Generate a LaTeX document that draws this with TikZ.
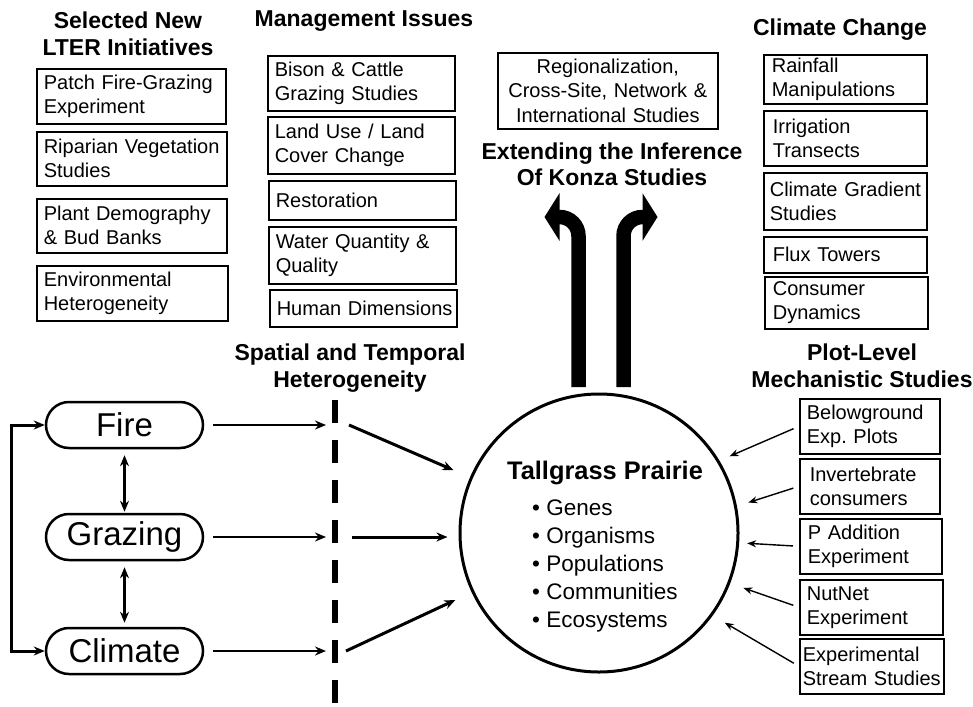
\documentclass[tikz,border=0pt]{standalone}
\usepackage{fontspec}
\setmainfont{Liberation Sans}
\usetikzlibrary{arrows.meta}
\hyphenpenalty=10000
\exhyphenpenalty=10000
\hbadness=10000
\hfuzz=20pt
\frenchspacing
\begin{document}
\frenchspacing
\begin{tikzpicture}[x=1pt,y=-1pt,
  ibox/.style={draw, line width=1.6pt, anchor=north west, align=left, inner xsep=7pt, inner ysep=0pt, font=\fontsize{20}{24}\selectfont},
  head/.style={font=\bfseries\fontsize{23}{27}\selectfont, align=center, inner sep=0pt},
  pill/.style={draw, line width=2.5pt, rounded corners=23pt, minimum width=157pt, minimum height=46pt, inner sep=0pt, font=\fontsize{33}{36}\selectfont},
  arr/.style={line width=2.5pt, -{Stealth[length=11pt,width=9pt]}},
  darr/.style={line width=2.5pt, {Stealth[length=11pt,width=9pt]}-{Stealth[length=11pt,width=9pt]}},
  thinarr/.style={line width=1.4pt, -{Stealth[length=9pt,width=7pt]}},
  bigarr/.style={line width=14.5pt, -{Triangle[length=15pt,width=47pt]}}
]
\useasboundingbox (0,0) rectangle (973,706);

% headings
\node[head] (hlter) at (128,33.5) {Selected New\\LTER Initiatives};
\node[head] (hman) at (364,21) {Management Issues};
\node[head] (hclim) at (840,30) {Climate Change};
\node[head, font=\bfseries\fontsize{23}{26}\selectfont] (hext) at (612,164) {Extending the Inference\\Of Konza Studies};
\node[head] (hspat) at (350,368.5) {Spatial and Temporal\\Heterogeneity};
\node[head] (hplot) at (862,365.5) {Plot-Level\\Mechanistic Studies};

% LTER initiatives
\node[ibox, text width=175pt, minimum height=55pt] (l1) at (36,68) {\mbox{Patch Fire-Grazing}\\Experiment};
\node[ibox, text width=176pt, minimum height=54pt] (l2) at (36,131) {\mbox{Riparian Vegetation}\\Studies};
\node[ibox, text width=176pt, minimum height=54pt] (l3) at (36,198) {\mbox{Plant Demography}\\\mbox{\& Bud Banks}};
\node[ibox, text width=177pt, minimum height=55pt] (l4) at (36,265) {Environmental\\Heterogeneity};

% management issues
\node[ibox, text width=173pt, minimum height=55pt] (m1) at (267,55) {\mbox{Bison \& Cattle}\\\mbox{Grazing Studies}};
\node[ibox, text width=173pt, minimum height=57pt] (m2) at (267,116) {\mbox{Land Use / Land}\\\mbox{Cover Change}};
\node[ibox, text width=173pt, minimum height=39pt] (m3) at (268,180) {Restoration};
\node[ibox, text width=173pt, minimum height=57pt] (m4) at (268,226) {\mbox{Water Quantity \&}\\Quality};
\node[ibox, text width=173pt, minimum height=37pt] (m5) at (269,289) {\mbox{Human Dimensions}};

% regionalization
\node[ibox, align=center, text width=206pt, minimum height=76pt, font=\fontsize{20}{24.5}\selectfont] (reg) at (497,52) {Regionalization,\\\mbox{Cross-Site, Network \&}\\\mbox{International Studies}};

% climate change
\node[ibox, inner xsep=8pt, text width=147pt, minimum height=49pt] (c1) at (763,54) {Rainfall\\Manipulations};
\node[ibox, inner xsep=9pt, text width=145pt, minimum height=55pt] (c2) at (763,110) {Irrigation\\Transects};
\node[ibox, inner xsep=6pt, text width=151pt, minimum height=57pt] (c3) at (763,172) {\mbox{Climate Gradient}\\Studies};
\node[ibox, inner xsep=9pt, text width=145pt, minimum height=36pt] (c4) at (763,236) {\mbox{Flux Towers}};
\node[ibox, inner xsep=8pt, text width=147pt, minimum height=52pt] (c5) at (764,276) {Consumer\\Dynamics};

% plot-level studies
\node[ibox, inner xsep=7pt, text width=126pt, minimum height=55pt] (p1) at (799,398) {Belowground\\\mbox{Exp.\ Plots}};
\node[ibox, inner xsep=10pt, text width=120pt, minimum height=55pt] (p2) at (799,458) {Invertebrate\\consumers};
\node[ibox, inner xsep=8pt, text width=126pt, minimum height=55pt] (p3) at (799,518) {\mbox{P Addition}\\Experiment};
\node[ibox, inner xsep=7pt, text width=129pt, minimum height=55pt] (p4) at (799,579) {NutNet\\Experiment};
\node[ibox, inner xsep=3pt, text width=138pt, minimum height=55pt] (p5) at (799,638) {Experimental\\\mbox{Stream Studies}};

% drivers
\node[pill] (fire) at (124.5,425) {Fire};
\node[pill] (graz) at (124.5,537) {Grazing};
\node[pill] (clim) at (124.5,651) {Climate};

% central circle
\node[circle, draw, line width=3pt, minimum size=278pt, inner sep=0pt] (tp) at (599,533) {};
\node[font=\bfseries\fontsize{25.4}{28}\selectfont, inner sep=0pt] (tptitle) at (605,473) {Tallgrass Prairie};
\node[anchor=west, align=left, inner sep=0pt, font=\fontsize{22.5}{28}\selectfont] (tplist) at (532,566)
  {\textbullet\ Genes\\\textbullet\ Organisms\\\textbullet\ Populations\\\textbullet\ Communities\\\textbullet\ Ecosystems};

% dashed heterogeneity line
\coordinate (dtop) at (335,400);
\coordinate (dbot) at (335,706);
\draw[line width=6.5pt, dash pattern=on 23pt off 17pt] (dtop) -- (dbot);

% drivers to dashed line
\coordinate (d1) at (326,425);
\coordinate (d2) at (326,537);
\coordinate (d3) at (326,651);
\draw[arr, shorten <=9pt] (fire.east) -- (d1);
\draw[arr, shorten <=9pt] (graz.east) -- (d2);
\draw[arr, shorten <=9pt] (clim.east) -- (d3);

% interactions among drivers
\draw[darr, shorten <=6pt, shorten >=1pt] (fire.south) -- (graz.north);
\draw[darr, shorten <=6pt, shorten >=4pt] (graz.south) -- (clim.north);
\draw[line width=3pt, {Stealth[length=11pt,width=9pt]}-{Stealth[length=11pt,width=9pt]}] (fire.west) -- ++(-33,0) |- (clim.west);

% dashed line to circle
\coordinate (s1) at (349,425);
\coordinate (s2) at (352,537);
\coordinate (s3) at (346,651);
\draw[arr, line width=3pt, shorten >=18pt] (s1) -- (tp);
\draw[arr, line width=3pt, shorten >=11pt] (s2) -- (s2 -| tp.west);
\draw[arr, line width=3pt, shorten >=18pt] (s3) -- (tp);

% plot-level studies to circle
\draw[thinarr, shorten <=6pt, shorten >=11pt] (p1.west) -- (tp.31);
\draw[thinarr, shorten <=6pt, shorten >=12pt] (p2.west) -- (tp.11);
\draw[thinarr, shorten <=6pt, shorten >=8pt] (p3.west) -- (tp.-4);
\draw[thinarr, shorten <=6pt, shorten >=14pt] (p4.west) -- (tp.-21);
\draw[thinarr, shorten <=6pt, shorten >=14pt] (p5.west) -- (tp.-36);

% extending arrows
\coordinate (ul) at (578.5,387);
\coordinate (ur) at (623.5,387);
\draw[bigarr] (ul) -- (578.5,236) arc[start angle=0, end angle=-90, radius=19] -- ++(-15,0);
\draw[bigarr] (ur) -- (623.5,236) arc[start angle=180, end angle=270, radius=19] -- ++(15,0);
\end{tikzpicture}
\end{document}
